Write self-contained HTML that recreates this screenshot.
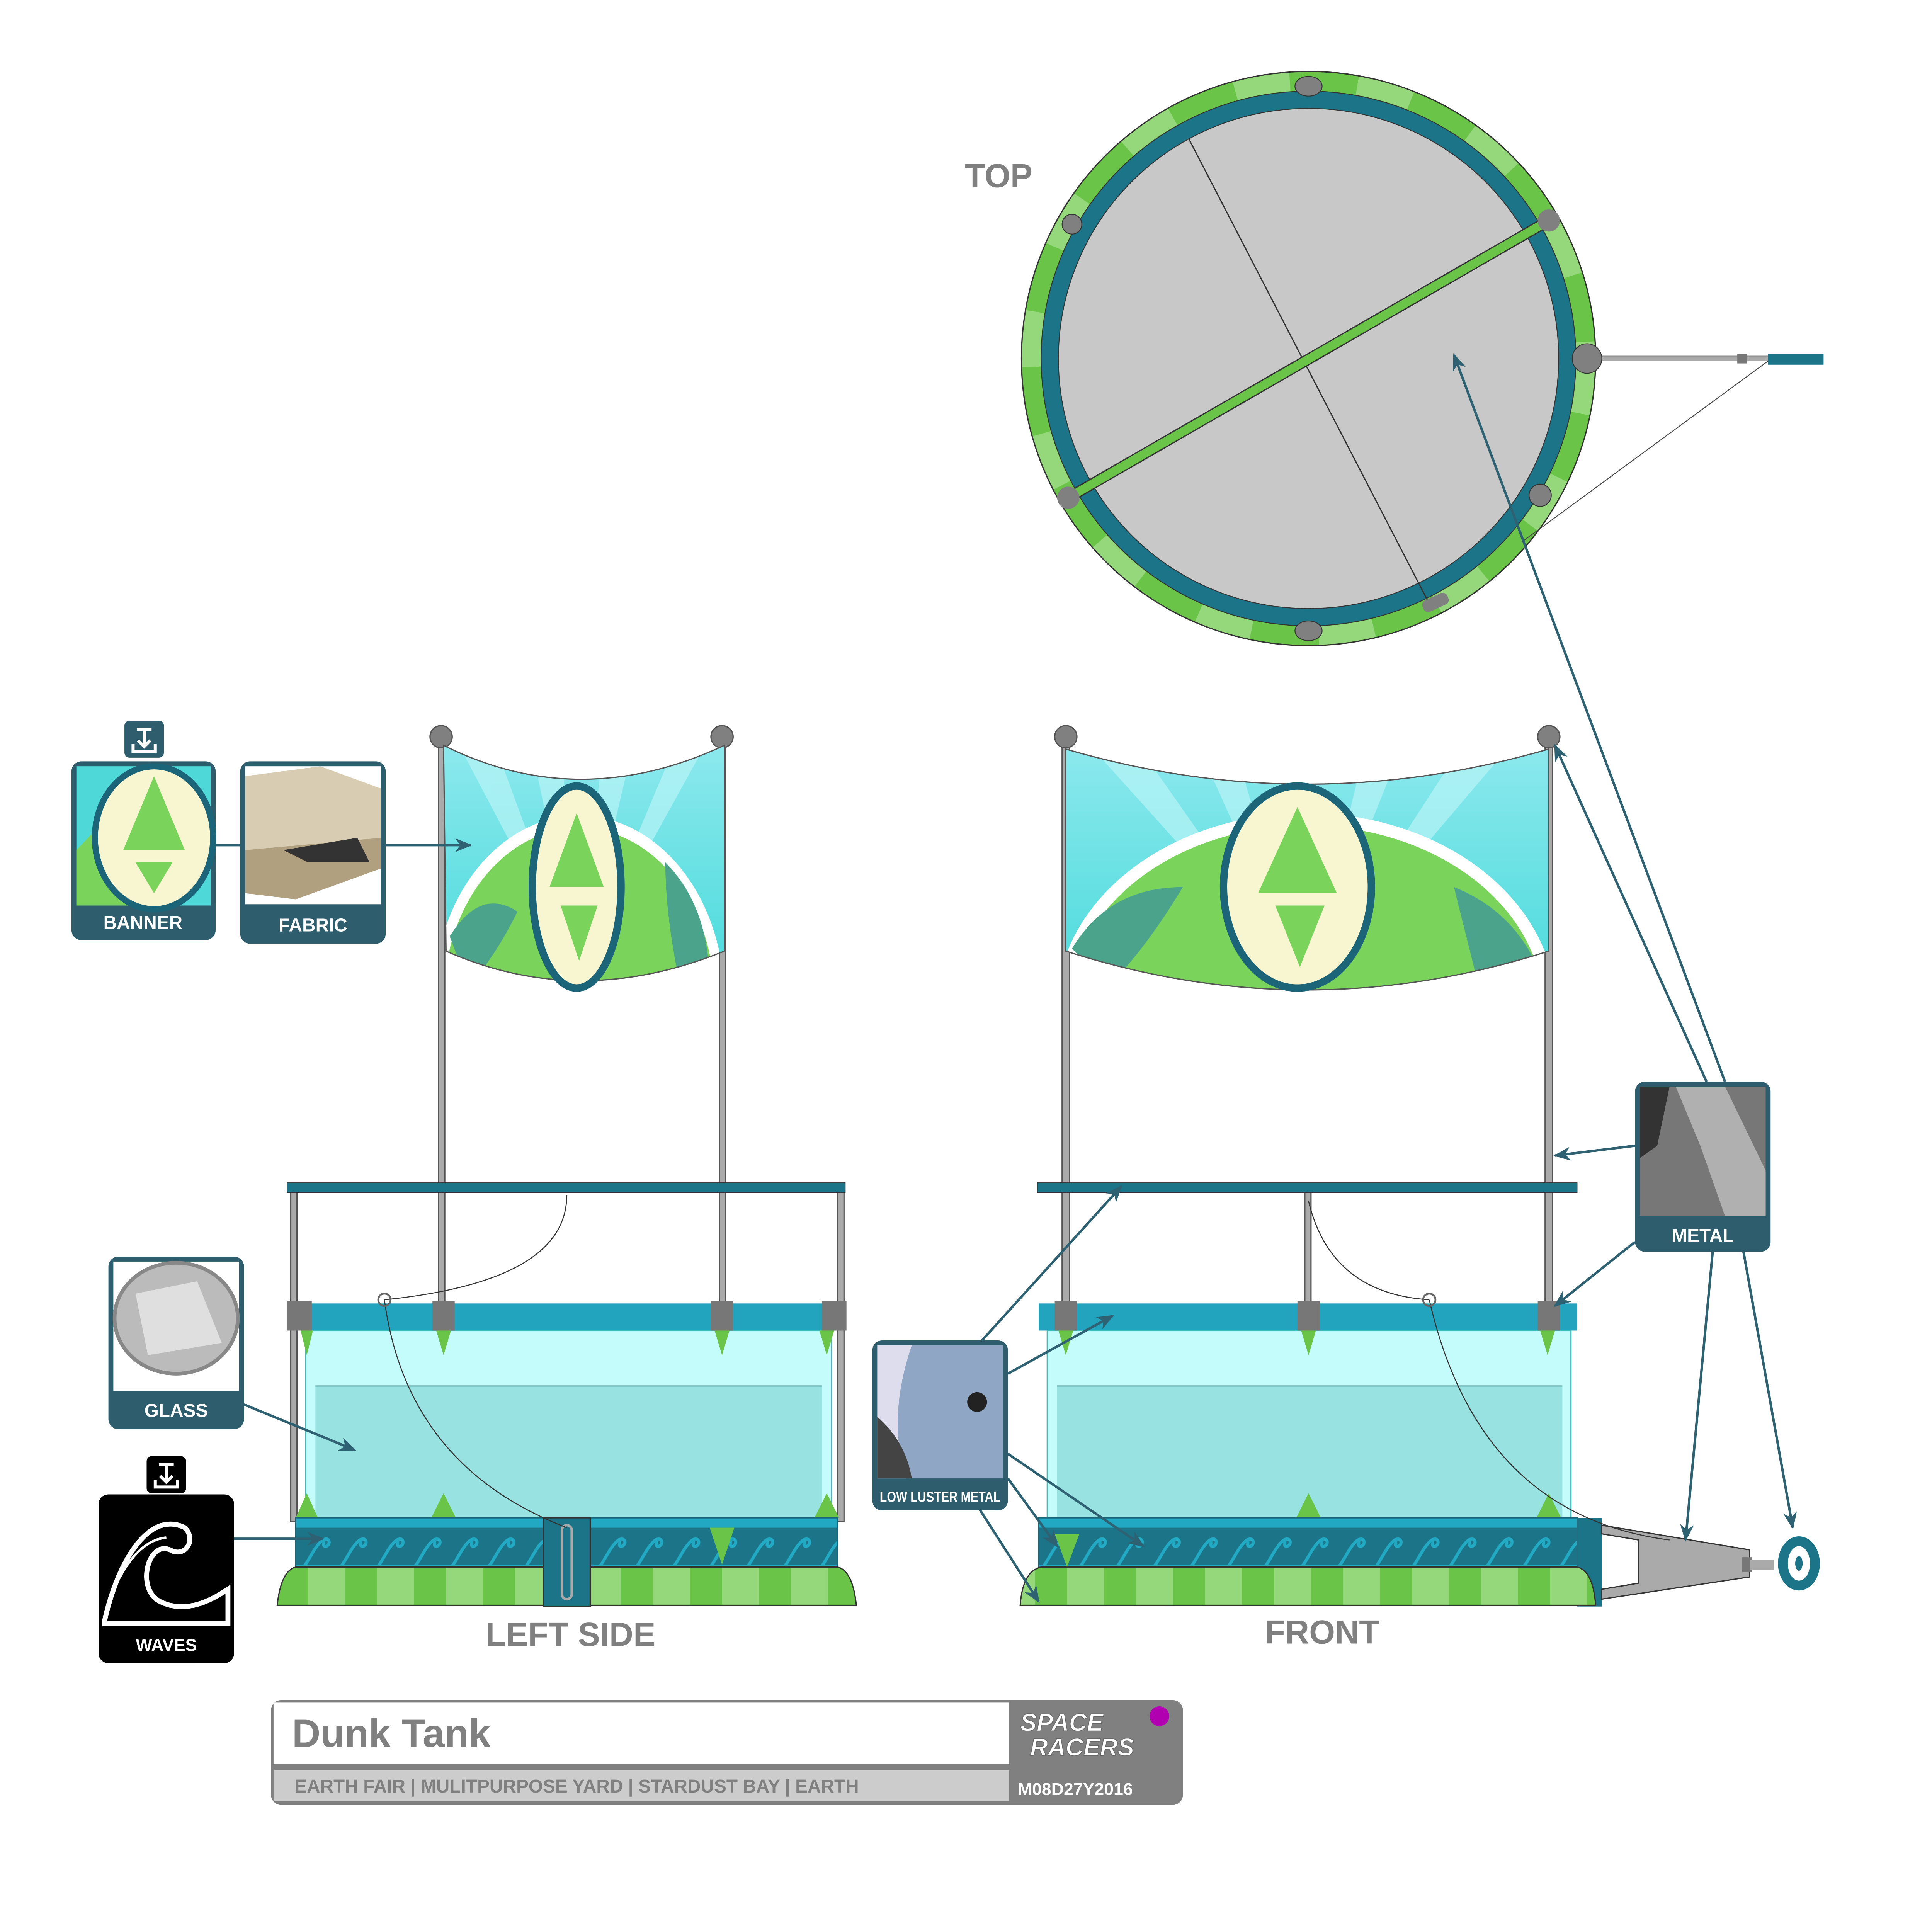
<!DOCTYPE html>
<html><head><meta charset="utf-8"><style>
html,body{margin:0;padding:0;background:#fff;overflow:hidden;}
svg{display:block;width:100vw;height:calc(100vw * 5782 / 5981);}
text{font-family:"Liberation Sans",sans-serif;}
</style></head><body>
<svg viewBox="0 0 1568 1516" preserveAspectRatio="none" xmlns="http://www.w3.org/2000/svg">
<defs>
<marker id="ah" viewBox="0 0 10 10" refX="9" refY="5" markerWidth="7" markerHeight="7" orient="auto"><path d="M0,1 L10,5 L0,9 L3,5 Z" fill="#2e6272"/></marker>
<linearGradient id="sky" x1="0" y1="0" x2="0" y2="1"><stop offset="0" stop-color="#8ee9ee"/><stop offset="1" stop-color="#3fd8d8"/></linearGradient>
<pattern id="wave" x="0" y="0" width="30" height="40" patternUnits="userSpaceOnUse">
<rect width="30" height="40" fill="#1c7488"/>
<path d="M4,34 C10,30 14,16 22,10 C27,7 29,13 25,15 C22,16 22,12 24,12" fill="none" stroke="#22aac4" stroke-width="2.5"/>
<rect y="30" width="30" height="10" fill="#22a8c2"/>
</pattern>
<pattern id="stripe" x="0" y="0" width="56" height="40" patternUnits="userSpaceOnUse">
<rect width="56" height="40" fill="#95d87c"/><rect x="0" width="26" height="40" fill="#6ac447"/>
</pattern>
<clipPath id="bL"><path d="M360,605 Q470,660 588,605 L588,772 Q470,820 362,772 Z"/></clipPath>
<clipPath id="bF"><path d="M865,608 Q1060,665 1257,608 L1257,772 Q1060,835 865,772 Z"/></clipPath>
</defs>

<!-- TOP VIEW -->
<text x="783" y="152" font-size="27" font-weight="bold" fill="#808080">TOP</text>
<circle cx="1062" cy="291" r="233" fill="#6ac447"/>
<circle cx="1062" cy="291" r="225" fill="none" stroke="#95d87c" stroke-width="15" stroke-dasharray="45 55"/>
<circle cx="1062" cy="291" r="233" fill="none" stroke="#333" stroke-width="1"/>
<circle cx="1062" cy="291" r="217" fill="#1c7488" stroke="#333" stroke-width="0.7"/>
<circle cx="1062" cy="291" r="203" fill="#c8c8c8" stroke="#333" stroke-width="0.7"/>
<g fill="#808080" stroke="#333" stroke-width="0.7"><ellipse cx="1062" cy="70" rx="11" ry="8"/><ellipse cx="1062" cy="512" rx="11" ry="8"/><circle cx="870" cy="182" r="8"/><circle cx="1250" cy="402" r="9"/><circle cx="1288" cy="291" r="12"/></g>
<line x1="965" y1="113" x2="1160" y2="490" stroke="#333" stroke-width="1"/>
<rect x="1154" y="484" width="22" height="10" rx="4" fill="#808080" transform="rotate(-25 1165 489)"/>
<line x1="867" y1="404" x2="1257" y2="179" stroke="#333" stroke-width="9"/>
<line x1="867" y1="404" x2="1257" y2="179" stroke="#6ac447" stroke-width="7"/>
<circle cx="867" cy="404" r="9" fill="#808080"/><circle cx="1257" cy="179" r="9" fill="#808080"/>
<rect x="1300" y="289" width="135" height="4" fill="#aaa" stroke="#555" stroke-width="0.5"/>
<rect x="1410" y="287" width="8" height="8" fill="#777"/>
<rect x="1435" y="287" width="45" height="9" fill="#1c7488"/>
<line x1="1435" y1="293" x2="1235" y2="440" stroke="#444" stroke-width="0.7"/>

<!-- LEFT SIDE -->
<g stroke="#555" stroke-width="1">
<rect x="356" y="600" width="5" height="635" fill="#aaa"/>
<rect x="584" y="600" width="5" height="635" fill="#aaa"/>
<rect x="236" y="965" width="5" height="270" fill="#aaa"/>
<rect x="680" y="965" width="5" height="270" fill="#aaa"/>
</g>
<circle cx="358" cy="598" r="9" fill="#808080" stroke="#555"/><circle cx="586" cy="598" r="9" fill="#808080" stroke="#555"/>
<g clip-path="url(#bL)">
<rect x="355" y="600" width="240" height="230" fill="url(#sky)"/>
<g fill="#b8f4f6" opacity="0.7"><path d="M470,790 L370,600 L400,600Z"/><path d="M470,790 L430,600 L455,600Z"/><path d="M470,790 L490,600 L515,600Z"/><path d="M470,790 L550,600 L575,600Z"/></g>
<ellipse cx="470" cy="812" rx="118" ry="150" fill="#fff"/>
<ellipse cx="470" cy="812" rx="110" ry="140" fill="#7ad35a"/>
<path d="M365,760 Q390,720 420,740 Q400,780 380,800Z M540,700 Q570,730 575,780 L550,790 Q540,740 540,700Z" fill="#4aa38a"/>
</g>
<path d="M360,605 Q470,660 588,605 L588,772 Q470,820 362,772 Z" fill="none" stroke="#555" stroke-width="1"/>
<ellipse cx="468" cy="720" rx="36" ry="82" fill="#f8f6d0" stroke="#1c6478" stroke-width="6"/>
<path d="M468,660 L490,720 L446,720 Z M455,735 L485,735 L470,780 Z" fill="#7ad35a"/>

<rect x="233" y="960" width="453" height="8" fill="#1c7488" stroke="#333" stroke-width="0.5"/>
<rect x="240" y="1058" width="446" height="22" fill="#22a4be"/>
<rect x="248" y="1080" width="427" height="152" fill="#c4fcfc" stroke="#4bb" stroke-width="1"/>
<rect x="256" y="1125" width="411" height="107" fill="#98e2e2"/>
<line x1="256" y1="1125" x2="667" y2="1125" stroke="#6aa" stroke-width="1"/>
<g fill="#777"><rect x="233" y="1056" width="20" height="24"/><rect x="351" y="1056" width="18" height="24"/><rect x="577" y="1056" width="18" height="24"/><rect x="667" y="1056" width="20" height="24"/></g>
<g fill="#6ac447"><path d="M244,1080 L254,1080 L249,1100Z"/><path d="M354,1080 L366,1080 L360,1100Z"/><path d="M580,1080 L592,1080 L586,1100Z"/><path d="M665,1080 L677,1080 L671,1100Z"/><path d="M240,1232 L258,1232 L249,1212Z"/><path d="M350,1232 L370,1232 L360,1212Z"/><path d="M661,1232 L681,1232 L671,1212Z"/></g>
<rect x="240" y="1232" width="440" height="40" fill="url(#wave)" stroke="#1c6478"/>
<path d="M225,1303 Q228,1275 240,1272 L680,1272 Q692,1275 695,1303 Z" fill="url(#stripe)" stroke="#333" stroke-width="1"/>
<path d="M576,1240 L596,1240 L586,1270Z" fill="#6ac447"/>
<rect x="441" y="1232" width="38" height="72" fill="#1c7488" stroke="#333"/>
<rect x="456" y="1238" width="8" height="60" rx="4" fill="none" stroke="#aaa" stroke-width="2"/>
<path d="M460,970 Q460,1040 312,1055" fill="none" stroke="#333" stroke-width="0.8"/>
<path d="M312,1055 Q330,1190 460,1240" fill="none" stroke="#333" stroke-width="0.8"/>
<circle cx="312" cy="1055" r="5" fill="none" stroke="#666" stroke-width="1.5"/>
<text x="463" y="1336" font-size="27" font-weight="bold" fill="#808080" text-anchor="middle">LEFT SIDE</text>

<!-- FRONT -->
<g stroke="#555" stroke-width="1">
<rect x="862" y="600" width="6" height="635" fill="#aaa"/>
<rect x="1254" y="600" width="6" height="635" fill="#aaa"/>
<rect x="1059" y="965" width="5" height="270" fill="#aaa"/>
<rect x="850" y="1080" width="5" height="152" fill="#aaa"/>
</g>
<circle cx="865" cy="598" r="9" fill="#808080" stroke="#555"/><circle cx="1257" cy="598" r="9" fill="#808080" stroke="#555"/>
<g clip-path="url(#bF)">
<rect x="860" y="600" width="400" height="240" fill="url(#sky)"/>
<g fill="#b8f4f6" opacity="0.7"><path d="M1060,800 L880,600 L920,600Z"/><path d="M1060,800 L970,600 L1000,600Z"/><path d="M1060,800 L1110,600 L1140,600Z"/><path d="M1060,800 L1190,600 L1230,600Z"/></g>
<ellipse cx="1060" cy="820" rx="203" ry="160" fill="#fff"/>
<ellipse cx="1060" cy="820" rx="193" ry="150" fill="#7ad35a"/>
<path d="M870,770 Q900,720 960,720 Q930,770 900,800Z M1180,720 Q1230,740 1250,790 L1200,800 Q1190,760 1180,720Z" fill="#4aa38a"/>
</g>
<path d="M865,608 Q1060,665 1257,608 L1257,772 Q1060,835 865,772 Z" fill="none" stroke="#555" stroke-width="1"/>
<ellipse cx="1053" cy="720" rx="60" ry="82" fill="#f8f6d0" stroke="#1c6478" stroke-width="6"/>
<path d="M1053,655 L1085,725 L1021,725 Z M1035,735 L1075,735 L1055,785 Z" fill="#7ad35a"/>

<rect x="842" y="960" width="438" height="8" fill="#1c7488" stroke="#333" stroke-width="0.5"/>
<rect x="843" y="1058" width="437" height="22" fill="#22a4be"/>
<rect x="850" y="1080" width="425" height="152" fill="#c4fcfc" stroke="#4bb" stroke-width="1"/>
<rect x="858" y="1125" width="410" height="107" fill="#98e2e2"/>
<line x1="858" y1="1125" x2="1268" y2="1125" stroke="#6aa" stroke-width="1"/>
<g fill="#777"><rect x="856" y="1056" width="18" height="24"/><rect x="1053" y="1056" width="18" height="24"/><rect x="1248" y="1056" width="18" height="24"/></g>
<g fill="#6ac447"><path d="M859,1080 L871,1080 L865,1100Z"/><path d="M1056,1080 L1068,1080 L1062,1100Z"/><path d="M1250,1080 L1262,1080 L1256,1100Z"/><path d="M1052,1232 L1072,1232 L1062,1212Z"/><path d="M1247,1232 L1267,1232 L1257,1212Z"/></g>
<rect x="843" y="1232" width="437" height="40" fill="url(#wave)" stroke="#1c6478"/>
<rect x="1280" y="1232" width="20" height="72" fill="#1c7488"/>
<path d="M828,1303 Q830,1275 845,1272 L1280,1272 Q1293,1275 1295,1303 Z" fill="url(#stripe)" stroke="#333" stroke-width="1"/>
<path d="M856,1245 L876,1245 L866,1272Z" fill="#6ac447"/>
<path d="M1300,1238 L1420,1258 L1420,1280 L1300,1298 L1300,1290 L1330,1285 L1330,1250 L1300,1245 Z" fill="#aaa" stroke="#333" stroke-width="1"/>
<rect x="1414" y="1264" width="8" height="12" fill="#777"/>
<rect x="1420" y="1266" width="20" height="8" fill="#aaa"/>
<ellipse cx="1460" cy="1269" rx="17" ry="22" fill="#1c7488"/>
<ellipse cx="1460" cy="1269" rx="9" ry="14" fill="#fff"/>
<ellipse cx="1460" cy="1269" rx="3" ry="6" fill="#1c7488"/>
<path d="M1062,975 Q1080,1050 1160,1055" fill="none" stroke="#333" stroke-width="0.8"/>
<path d="M1160,1055 Q1200,1230 1355,1250" fill="none" stroke="#333" stroke-width="0.8"/>
<circle cx="1160" cy="1055" r="5" fill="none" stroke="#666" stroke-width="1.5"/>
<text x="1073" y="1334" font-size="27" font-weight="bold" fill="#808080" text-anchor="middle">FRONT</text>

<!-- CALLOUTS -->
<g stroke="#2e6272" stroke-width="2" fill="none" marker-end="url(#ah)">
<line x1="313" y1="686" x2="382" y2="686"/>
<line x1="198" y1="1140" x2="288" y2="1177"/>
<line x1="190" y1="1249" x2="262" y2="1249"/>
<line x1="1400" y1="878" x2="1180" y2="288"/>
<line x1="1385" y1="878" x2="1262" y2="605"/>
<line x1="1327" y1="930" x2="1262" y2="938"/>
<line x1="1327" y1="1008" x2="1262" y2="1060"/>
<line x1="1390" y1="1016" x2="1368" y2="1250"/>
<line x1="1415" y1="1016" x2="1455" y2="1240"/>
<line x1="797" y1="1088" x2="910" y2="963"/>
<line x1="818" y1="1115" x2="903" y2="1068"/>
<line x1="818" y1="1180" x2="928" y2="1255"/>
<line x1="818" y1="1200" x2="858" y2="1255"/>
<line x1="795" y1="1225" x2="843" y2="1300"/>
</g>
<line x1="175" y1="686" x2="195" y2="686" stroke="#2e6272" stroke-width="2"/>

<!-- BANNER -->
<rect x="101" y="585" width="32" height="30" rx="4" fill="#2e5e6e"/>
<path d="M111,592 L123,592 M117,592 L117,606 M112,601 L117,606 L122,601 M108,604 L108,610 L126,610 L126,604" stroke="#fff" stroke-width="2.5" fill="none"/>
<rect x="58" y="618" width="117" height="145" rx="8" fill="#2e5e6e"/>
<rect x="62" y="622" width="109" height="113" fill="#4fd8d8"/>
<path d="M62,690 L100,650 L110,735 L62,735Z" fill="#7ad35a"/>
<ellipse cx="125" cy="680" rx="48" ry="58" fill="#f8f6d0" stroke="#1c6478" stroke-width="5"/>
<path d="M125,630 L150,690 L100,690Z M110,700 L140,700 L125,725Z" fill="#7ad35a"/>
<text x="116" y="754" font-size="15" font-weight="bold" fill="#fff" text-anchor="middle">BANNER</text>
<!-- FABRIC -->
<rect x="195" y="618" width="118" height="148" rx="8" fill="#2e5e6e"/>
<rect x="199" y="622" width="110" height="112" fill="#fff"/>
<path d="M199,630 L260,622 L309,640 L309,680 L199,690Z" fill="#d8cdb2"/>
<path d="M199,690 L309,680 L309,705 L240,730 L199,725Z" fill="#b0a080"/>
<path d="M230,690 L290,680 L300,700 L250,700Z" fill="#333"/>
<text x="254" y="756" font-size="15" font-weight="bold" fill="#fff" text-anchor="middle">FABRIC</text>
<!-- GLASS -->
<rect x="88" y="1020" width="110" height="140" rx="8" fill="#2e5e6e"/>
<rect x="92" y="1024" width="102" height="105" fill="#fff"/>
<ellipse cx="143" cy="1070" rx="50" ry="45" fill="#bbb" stroke="#888" stroke-width="3"/>
<path d="M110,1050 L160,1040 L180,1090 L120,1100Z" fill="#e8e8e8" opacity="0.8"/>
<text x="143" y="1150" font-size="15" font-weight="bold" fill="#fff" text-anchor="middle">GLASS</text>
<!-- WAVES -->
<rect x="119" y="1182" width="32" height="30" rx="4" fill="#000"/>
<path d="M129,1189 L141,1189 M135,1189 L135,1203 M130,1198 L135,1203 L140,1198 M126,1201 L126,1207 L144,1207 L144,1201" stroke="#fff" stroke-width="2.5" fill="none"/>
<rect x="80" y="1213" width="110" height="137" rx="8" fill="#000"/>
<path d="M85,1315 C95,1270 120,1225 150,1240 C160,1250 150,1265 138,1258 C120,1250 110,1290 130,1300 C150,1310 170,1300 185,1290 L185,1318 L85,1318Z" fill="none" stroke="#fff" stroke-width="4"/>
<path d="M88,1300 C100,1270 115,1250 135,1248" stroke="#fff" stroke-width="2" fill="none"/>
<text x="135" y="1340" font-size="14" font-weight="bold" fill="#fff" text-anchor="middle">WAVES</text>
<!-- METAL -->
<rect x="1327" y="878" width="110" height="138" rx="8" fill="#2e5e6e"/>
<rect x="1331" y="882" width="102" height="105" fill="#777"/>
<path d="M1360,882 L1400,882 L1433,950 L1433,987 L1400,987 L1380,930Z" fill="#b0b0b0"/>
<path d="M1331,882 L1355,882 L1345,930 L1331,940Z" fill="#333"/>
<text x="1382" y="1008" font-size="15" font-weight="bold" fill="#fff" text-anchor="middle">METAL</text>
<!-- LOW LUSTER METAL -->
<rect x="708" y="1088" width="110" height="138" rx="8" fill="#2e5e6e"/>
<rect x="712" y="1092" width="102" height="108" fill="#8fa6c4"/>
<path d="M712,1092 L740,1092 Q720,1150 735,1200 L712,1200Z" fill="#dde"/>
<path d="M712,1150 Q735,1170 740,1200 L712,1200Z" fill="#444"/>
<circle cx="793" cy="1138" r="8" fill="#222"/>
<text x="763" y="1219" font-size="12" font-weight="bold" fill="#fff" text-anchor="middle" textLength="98" lengthAdjust="spacingAndGlyphs">LOW LUSTER METAL</text>

<!-- TITLE BLOCK -->
<rect x="220" y="1380" width="740" height="85" rx="8" fill="#808080"/>
<rect x="222" y="1382" width="597" height="50" fill="#fff"/>
<rect x="222" y="1437" width="597" height="25" fill="#cccccc"/>
<text x="237" y="1418" font-size="32" font-weight="bold" fill="#808080">Dunk Tank</text>
<text x="239" y="1455" font-size="15" font-weight="bold" fill="#808080">EARTH FAIR | MULITPURPOSE YARD | STARDUST BAY | EARTH</text>
<text x="828" y="1405" font-size="20" font-weight="bold" font-style="italic" fill="#fff" stroke="#666" stroke-width="0.5">SPACE</text>
<text x="836" y="1425" font-size="20" font-weight="bold" font-style="italic" fill="#fff" stroke="#666" stroke-width="0.5">RACERS</text>
<circle cx="941" cy="1393" r="8" fill="#b000b0"/>
<text x="826" y="1457" font-size="14" font-weight="bold" fill="#fff">M08D27Y2016</text>
</svg>
</body></html>
